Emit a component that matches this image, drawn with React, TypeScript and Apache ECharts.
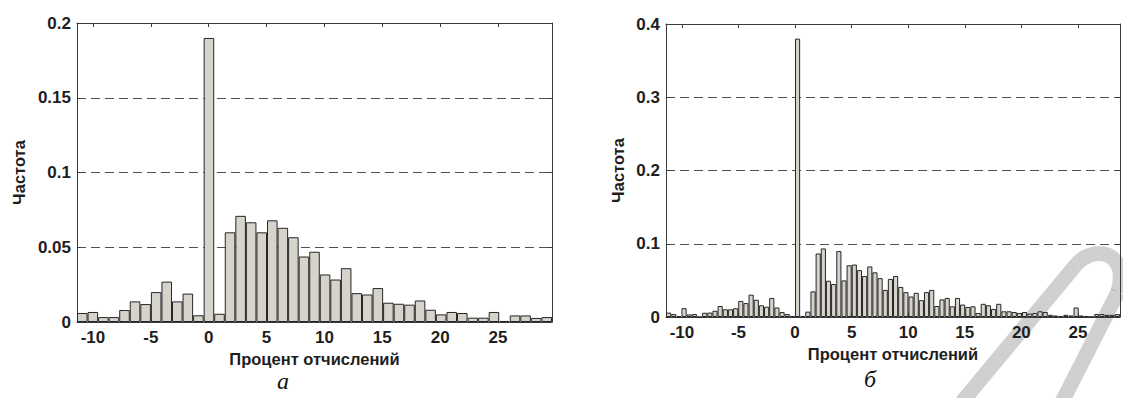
import React, { useEffect, useRef } from "react";
import * as echarts from "echarts";

// ---- data: chart "а" (45 bins) ----
const xRangeA = [-11.38, 29.66];
const freqA = [
  0.006, 0.0067, 0.0033, 0.0033, 0.008, 0.0138, 0.012, 0.02, 0.027, 0.0138,
  0.019, 0.0045, 0.19, 0.0055, 0.06, 0.071, 0.0667, 0.06, 0.068, 0.063,
  0.0567, 0.0438, 0.047, 0.0318, 0.0284, 0.036, 0.0193, 0.0184, 0.0227, 0.0129,
  0.0122, 0.0116, 0.0144, 0.0082, 0.0051, 0.0067, 0.006, 0.0029, 0.0029, 0.0067,
  0.0007, 0.0044, 0.0044, 0.0027, 0.0033,
];
const yMaxA = 0.2;
const yStepA = 0.05;

// ---- data: chart "б" (88 bins) ----
const xRangeB = [-11.41, 28.72];
const freqB = [
  0.006, 0.004, 0.001, 0.012, 0.0035, 0.004, 0, 0.0058, 0.006, 0.0085,
  0.015, 0.0105, 0.0105, 0.012, 0.022, 0.019, 0.0305, 0.0235, 0.016, 0.014,
  0.026, 0.013, 0.0067, 0.004, 0.0014, 0.38, 0.0014, 0.0073, 0.035, 0.0867,
  0.0936, 0.0495, 0.045, 0.09, 0.05, 0.0706, 0.0716, 0.064, 0.056, 0.069,
  0.061, 0.053, 0.037, 0.052, 0.056, 0.041, 0.034, 0.028, 0.033, 0.023,
  0.034, 0.037, 0.015, 0.024, 0.026, 0.0146, 0.026, 0.017, 0.0137, 0.0146,
  0.0055, 0.018, 0.016, 0.011, 0.018, 0.0078, 0.0078, 0.0068, 0.0055, 0.0068,
  0.0046, 0.0055, 0.0078, 0.0068, 0.003, 0.002, 0.001, 0.003, 0.002, 0.013,
  0.002, 0.001, 0, 0.004, 0.004, 0.003, 0.003, 0.004,
];
const yMaxB = 0.4;
const yStepB = 0.1;

const xTitle = "Процент отчислений";
const yTitle = "Частота";
const panelLabels = ["а", "б"];

const FONT = "'Liberation Sans', Arial, sans-serif";
const TXT = "#1e1e1e";
const AX = "#3a3a3a";
const BAR_FILL = "#d6d3cb";
const BAR_EDGE = "#262626";
const WM = "rgba(150,150,150,0.45)";

function fmtX(v: number) {
  const r = Math.round(v / 5) * 5;
  return Math.abs(v - r) < 1e-6 ? String(r) : "";
}

function buildPanel(g: number, xr: number[], vals: number[], yMax: number, yStep: number, nameGapX: number, nameGapY: number) {
  const xBase = g * 3;
  const yBase = g * 2;
  const line = { show: true, onZero: false, lineStyle: { color: AX, width: 1 } };
  const tick = { show: true, inside: true, length: 4, lineStyle: { color: AX } };
  const xAxes = [
    {
      type: "value", gridIndex: g, position: "bottom", min: xr[0], max: xr[1], splitNumber: 8,
      axisLine: line, axisTick: tick,
      axisLabel: { formatter: fmtX, color: TXT, fontFamily: FONT, fontWeight: "bold", fontSize: 17, margin: 7 },
      splitLine: { show: false },
      name: xTitle, nameLocation: "middle", nameGap: nameGapX,
      nameTextStyle: { color: TXT, fontFamily: FONT, fontWeight: "bold", fontSize: 16.5 },
    },
    {
      type: "value", gridIndex: g, position: "top", min: xr[0], max: xr[1], splitNumber: 8,
      axisLine: line, axisTick: tick,
      axisLabel: { show: false },
      splitLine: { show: false },
    },
    {
      type: "category", gridIndex: g, data: vals.map((_, i) => String(i)), show: false,
      boundaryGap: true, axisLine: { onZero: false },
    },
  ];
  const yAxes = [
    {
      type: "value", gridIndex: g, position: "left", min: 0, max: yMax, interval: yStep,
      axisLine: line, axisTick: tick,
      axisLabel: { color: TXT, fontFamily: FONT, fontWeight: "bold", fontSize: 17, margin: 6 },
      splitLine: { show: true, lineStyle: { color: "#505050", width: 1, type: [9, 5] } },
      name: yTitle, nameLocation: "middle", nameGap: nameGapY, nameRotate: 90,
      nameTextStyle: { color: TXT, fontFamily: FONT, fontWeight: "bold", fontSize: 16.5 },
    },
    {
      type: "value", gridIndex: g, position: "right", min: 0, max: yMax, interval: yStep,
      axisLine: line, axisTick: tick,
      axisLabel: { show: false },
      splitLine: { show: false },
    },
  ];
  const series = {
    type: "bar",
    xAxisIndex: xBase + 2,
    yAxisIndex: yBase,
    data: vals,
    barCategoryGap: "0%",
    barGap: "0%",
    itemStyle: { color: BAR_FILL, borderColor: BAR_EDGE, borderWidth: 1 },
    z: 3,
  };
  return { xAxes, yAxes, series };
}

export default function App() {
  const ref = useRef<HTMLDivElement>(null);
  useEffect(() => {
    if (!ref.current) return;
    const chart = echarts.init(ref.current, undefined, { renderer: "svg" });
    const pA = buildPanel(0, xRangeA, freqA, yMaxA, yStepA, 26, 50);
    const pB = buildPanel(1, xRangeB, freqB, yMaxB, yStepB, 25, 40);
    chart.setOption({
      animation: false,
      backgroundColor: "#ffffff",
      grid: [
        { left: 77, top: 23, width: 475, height: 299 },
        { left: 666, top: 24, width: 455, height: 293 },
      ],
      xAxis: [...pA.xAxes, ...pB.xAxes],
      yAxis: [...pA.yAxes, ...pB.yAxes],
      series: [pA.series, pB.series],
      graphic: [
        {
          type: "text", x: 283, y: 369, z: 10,
          style: { text: panelLabels[0], font: "italic 24px 'Liberation Serif', serif", fill: "#111", textAlign: "center" },
        },
        {
          type: "text", x: 870, y: 367, z: 10,
          style: { text: panelLabels[1], font: "italic 24px 'Liberation Serif', serif", fill: "#111", textAlign: "center" },
        },
        {
          type: "group", z: 20, silent: true,
          children: [
            {
              type: "polyline", shape: { points: [[962, 402], [1075, 266]] },
              style: { stroke: WM, lineWidth: 15, fill: "none" },
            },
            {
              type: "bezierCurve",
              shape: { x1: 1075, y1: 266, cpx1: 1092, cpy1: 244, x2: 1118, y2: 292, cpx2: 1130, cpy2: 250 },
              style: { stroke: WM, lineWidth: 15, fill: "none" },
            },
            {
              type: "polyline", shape: { points: [[1118, 292], [1062, 402]] },
              style: { stroke: WM, lineWidth: 15, fill: "none" },
            },
          ],
        },
      ],
    });
    return () => chart.dispose();
  }, []);
  return (
    <div
      ref={ref}
      style={{ position: "absolute", left: 0, top: 0, width: 1123, height: 398, background: "#fff" }}
    />
  );
}
